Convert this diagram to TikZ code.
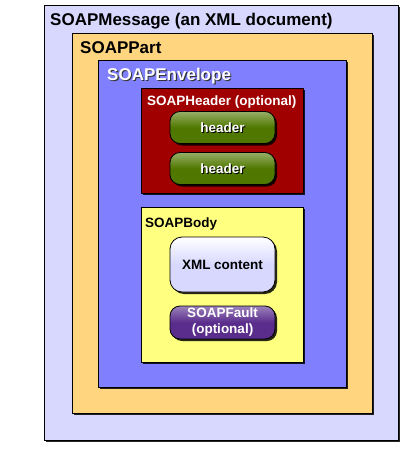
\documentclass[tikz,border=0pt]{standalone}
\usepackage{fontspec}
\setmainfont{Liberation Sans}
\usetikzlibrary{shadows}

\definecolor{msgcol}{RGB}{216,216,255}
\definecolor{partcol}{RGB}{255,213,128}
\definecolor{envcol}{RGB}{128,128,255}
\definecolor{hdrcol}{RGB}{160,0,0}
\definecolor{pillcol}{RGB}{80,120,0}
\definecolor{bodycol}{RGB}{255,255,128}
\definecolor{faultcol}{RGB}{90,45,140}

\tikzset{
  box/.style={draw=black, line width=0.8pt,
    drop shadow={shadow xshift=2pt, shadow yshift=-2pt, fill=black, opacity=0.85}},
  pill/.style={draw=black, line width=0.8pt, rounded corners=10pt,
    minimum width=105pt, minimum height=32pt, inner sep=0pt,
    drop shadow={shadow xshift=2pt, shadow yshift=-2pt, fill=black, opacity=0.85}},
  biglabel/.style={anchor=base west, inner sep=0pt, font=\fontsize{17}{20}\selectfont\bfseries},
  smalllabel/.style={anchor=base west, inner sep=0pt, font=\fontsize{13.5}{16}\selectfont\bfseries},
  pilltext/.style={font=\fontsize{13.5}{16}\selectfont\bfseries, align=center, inner sep=0pt}
}

\begin{document}
\begin{tikzpicture}[x=1pt,y=1pt]
\useasboundingbox (0,0) rectangle (412,-453);

\draw[box, fill=msgcol] (44,-5) rectangle (398,-440);
\node[biglabel] (msglabel) at (50,-25) {SOAPMessage (an XML document)};

\draw[box, fill=partcol] (72,-33) rectangle (372,-413);
\node[biglabel] (partlabel) at (80,-53) {SOAPPart};

\draw[box, fill=envcol] (98,-60) rectangle (346,-387);
\node[biglabel, black!80] (envshadow) at (108.2,-81.2) {SOAPEnvelope};
\node[biglabel, white] (envlabel) at (107,-80) {SOAPEnvelope};

\draw[box, fill=hdrcol] (141,-88) rectangle (303,-193);
\node[smalllabel, white] (hdrlabel) at (147,-105.5) {SOAPHeader (optional)};

\node[pill, top color=pillcol!60!white, bottom color=pillcol, middle color=pillcol] (hdr1) at (222.5,-127.5) {};
\node[pilltext, black] (hdr1shadow) at ([shift={(1,-1)}]hdr1) {header};
\node[pilltext, white] (hdr1text) at (hdr1) {header};

\node[pill, top color=pillcol!60!white, bottom color=pillcol, middle color=pillcol] (hdr2) at (222.5,-168.5) {};
\node[pilltext, black] (hdr2shadow) at ([shift={(1,-1)}]hdr2) {header};
\node[pilltext, white] (hdr2text) at (hdr2) {header};

\draw[box, fill=bodycol] (141,-207) rectangle (303,-362);
\node[smalllabel] (bodylabel) at (145,-227.5) {SOAPBody};

\node[pill, minimum height=55pt, rounded corners=12pt, top color=white, bottom color=msgcol, middle color=msgcol] (xml) at (222.5,-264.5) {};
\node[pilltext] (xmltext) at (xml) {XML content};

\node[pill, minimum height=33pt, top color=faultcol!60!white, bottom color=faultcol, middle color=faultcol] (fault) at (222.5,-322.5) {};
\node[pilltext, white] (faulttext) at (fault) {SOAPFault\\(optional)};

\end{tikzpicture}
\end{document}
